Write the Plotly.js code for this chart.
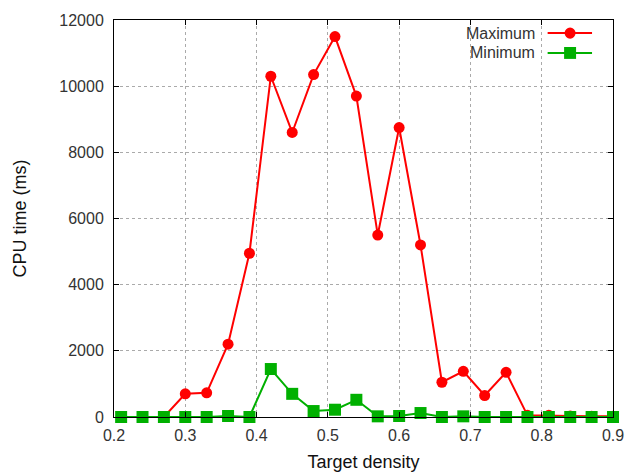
<!DOCTYPE html>
<html>
<head>
<meta charset="utf-8">
<script src="https://cdn.plot.ly/plotly-3.0.1.min.js"></script>
<style>html,body{margin:0;padding:0;background:#fff;}#chart{width:625px;height:473px;}</style>
</head>
<body>
<div id="chart"></div>
<script>
const density = [0.21,0.24,0.27,0.30,0.33,0.36,0.39,0.42,0.45,0.48,0.51,0.54,0.57,0.60,0.63,0.66,0.69,0.72,0.75,0.78,0.81,0.84,0.87,0.90];
const maximum = [0,0,0,700,730,2200,4950,10300,8600,10350,11500,9700,5500,8750,5200,1050,1380,650,1350,50,50,30,20,20];
const minimum = [0,0,0,0,0,30,0,1450,700,180,220,520,20,30,120,0,20,0,0,0,0,0,0,0];
const xTicks = [0.2,0.3,0.4,0.5,0.6,0.7,0.8,0.9];
const yTicks = [0,2000,4000,6000,8000,10000,12000];

const traces = [
  {x: density, y: maximum, name: 'Maximum', type: 'scatter', mode: 'lines+markers', cliponaxis: false,
   line: {color: '#ff0000', width: 2}, marker: {symbol: 'circle', size: 11, color: '#ff0000'}},
  {x: density, y: minimum, name: 'Minimum', type: 'scatter', mode: 'lines+markers', cliponaxis: false,
   line: {color: '#00b000', width: 2}, marker: {symbol: 'square', size: 12, color: '#00b000'}}
];

const font = {family: 'Liberation Sans, Arial, sans-serif', size: 16, color: '#333'};
const layout = {
  width: 625, height: 473,
  margin: {l: 114, r: 12, t: 20, b: 56},
  showlegend: false,
  paper_bgcolor: '#fff', plot_bgcolor: '#fff',
  font: font,
  xaxis: {
    range: [0.2, 0.9], tickvals: xTicks, ticktext: xTicks.map(v => v.toFixed(1)),
    showgrid: true, gridcolor: '#aaa', griddash: 'dot', gridwidth: 1,
    zeroline: false, showline: true, linecolor: '#000', linewidth: 1, mirror: 'ticks',
    ticks: 'inside', ticklen: 5, tickcolor: '#000', ticklabelstandoff: 4,
    ticklabeloverflow: 'allow',
    title: {text: 'Target density', font: {size: 18, color: '#111'}, standoff: 12}
  },
  yaxis: {
    range: [0, 12000], tickvals: yTicks, ticktext: yTicks.map(String),
    showgrid: true, gridcolor: '#aaa', griddash: 'dot', gridwidth: 1,
    zeroline: false, showline: true, linecolor: '#000', linewidth: 1, mirror: 'ticks',
    ticks: 'inside', ticklen: 5, tickcolor: '#000', ticklabelstandoff: 6,
    title: {text: 'CPU time (ms)', font: {size: 18, color: '#111'}, standoff: 27}
  },
  annotations: [
    {xref: 'paper', yref: 'paper', x: 0.848, y: 0.967, xanchor: 'right', yanchor: 'middle',
     text: 'Maximum', showarrow: false, font: {size: 16, color: '#333'}},
    {xref: 'paper', yref: 'paper', x: 0.848, y: 0.917, xanchor: 'right', yanchor: 'middle',
     text: 'Minimum', showarrow: false, font: {size: 16, color: '#333'}}
  ],
  shapes: [
    {type: 'line', xref: 'paper', yref: 'paper', x0: 0.869, x1: 0.958, y0: 0.967, y1: 0.967,
     line: {color: '#ff0000', width: 2}},
    {type: 'circle', xref: 'paper', yref: 'paper', x0: 0.903, x1: 0.925, y0: 0.953, y1: 0.981,
     fillcolor: '#ff0000', line: {color: '#ff0000', width: 0}},
    {type: 'line', xref: 'paper', yref: 'paper', x0: 0.869, x1: 0.958, y0: 0.917, y1: 0.917,
     line: {color: '#00b000', width: 2}},
    {type: 'rect', xref: 'paper', yref: 'paper', x0: 0.902, x1: 0.926, y0: 0.902, y1: 0.932,
     fillcolor: '#00b000', line: {color: '#00b000', width: 0}}
  ]
};

Plotly.newPlot('chart', traces, layout, {displayModeBar: false, staticPlot: true});
</script>
</body>
</html>
